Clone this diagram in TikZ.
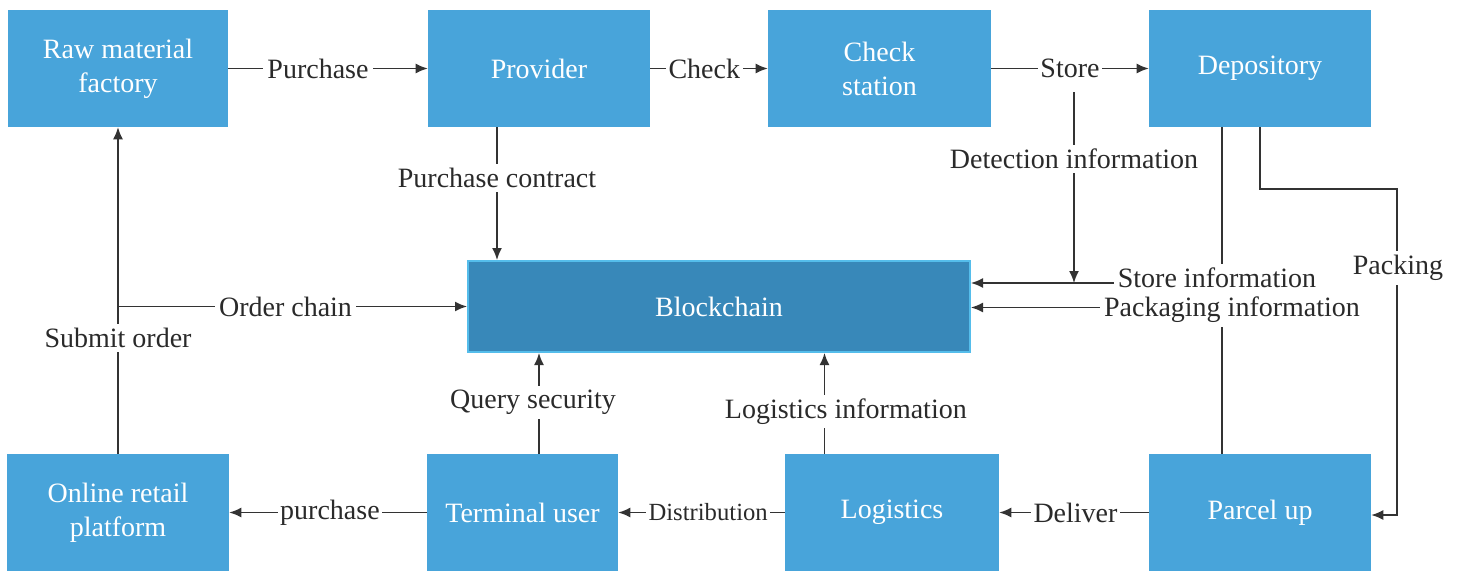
\documentclass[tikz,border=0pt]{standalone}
\usepackage{fontspec}
\setmainfont{Liberation Serif}
\usetikzlibrary{arrows.meta,calc}
\definecolor{boxblue}{HTML}{48A4DA}
\definecolor{chainblue}{HTML}{3888B9}
\definecolor{chainedge}{HTML}{55BDEB}
\definecolor{linegray}{HTML}{333333}
\definecolor{txtgray}{HTML}{2A2A2A}
\tikzset{
  box/.style={fill=boxblue, draw=none, text=white, inner sep=0pt, align=center,
    font=\fontsize{21}{25.5}\selectfont},
  chain/.style={fill=chainblue, draw=chainedge, line width=1.5pt, text=white, inner sep=0pt,
    font=\fontsize{21}{25.5}\selectfont},
  arr/.style={draw=linegray, line width=1.2pt, -{Latex[length=9pt,width=7.5pt]}},
  lbl/.style={fill=white, text=txtgray, inner sep=3pt, font=\fontsize{21}{25}\selectfont},
  slbl/.style={fill=white, text=txtgray, inner sep=3pt, font=\fontsize{18.5}{22}\selectfont}
}
\begin{document}
\begin{tikzpicture}[x=0.75pt,y=-0.75pt]
\useasboundingbox[fill=white] (0,0) rectangle (1461,571);
% boxes
\node[box, minimum width=220*0.75pt, minimum height=117*0.75pt] (raw) at (118,68.5) {Raw material\\factory};
\node[box, minimum width=222*0.75pt, minimum height=117*0.75pt] (prov) at (539,68.5) {Provider};
\node[box, minimum width=223*0.75pt, minimum height=117*0.75pt] (check) at (879.5,68.5) {Check\\station};
\node[box, minimum width=222*0.75pt, minimum height=117*0.75pt] (dep) at (1260,68.5) {Depository};
\node[chain, minimum width=502*0.75pt, minimum height=91*0.75pt] (bc) at (719,306.5) {Blockchain};
\node[box, minimum width=222*0.75pt, minimum height=117*0.75pt] (online) at (118,512.5) {Online retail\\platform};
\node[box, minimum width=191*0.75pt, minimum height=117*0.75pt] (term) at (522.5,512.5) {Terminal user};
\node[box, minimum width=214*0.75pt, minimum height=117*0.75pt] (logi) at (892,512.5) {Logistics};
\node[box, minimum width=222*0.75pt, minimum height=117*0.75pt] (parcel) at (1260,512.5) {Parcel up};
% top row
\draw[arr] (raw.east) -- (prov.west) node[lbl, pos=0.45] {Purchase};
\draw[arr] (prov.east) -- (check.west) node[lbl, inner sep=2pt, pos=0.46] (cklbl) {Check};
\draw[arr] (check.east) -- (dep.west) node[lbl, inner sep=2pt, pos=0.5] (stlbl) {Store};
% detection information
\coordinate (dtop) at (1074,92);
\coordinate (dbot) at (1074,283);
\draw[arr] (dtop) -- (dbot) node[lbl, pos=0.35] {Detection information};
% provider to blockchain
\coordinate (pc) at ($(prov.south)+(-42,0)$);
\draw[arr] (pc) -- (pc |- bc.north) node[lbl, pos=0.38] {Purchase contract};
% order chain & submit order
\draw[arr] (online.north) -- (raw.south) node[lbl, pos=0.355] {Submit order};
\draw[arr] (raw.south |- bc.west) -- (bc.west) node[lbl, pos=0.48] {Order chain};
% store / packaging information
\draw[arr] ($(dep.south)+(-38,0)$) |- ($(bc.east)+(0,-23.5)$);
\draw[arr] ($(parcel.north)+(-38,0)$) |- ($(bc.east)+(0,1)$);
% packing
\draw[arr] (dep.south) -- ++(0,62) -- ++(137,0) |- ($(parcel.east)+(0,2.5)$);
\node[lbl] (silbl) at (1217,278) {Store information};
\node[lbl] (pilbl) at (1232,310) {Packaging information};
\node[lbl] (pklbl) at (1398,268) {Packing};
% bottom to blockchain
\coordinate (qs) at ($(term.north)+(16.5,0)$);
\draw[arr] (qs) -- (qs |- bc.south) node[lbl, pos=0.51, xshift=-4.5pt] {Query security};
\coordinate (li) at ($(logi.north)+(-67.5,0)$);
\draw[arr] (li) -- (li |- bc.south) node[lbl, pos=0.42, xshift=16pt] {Logistics information};
% bottom row
\draw[arr] (term.west) -- (online.east) node[lbl, inner sep=2pt, pos=0.49] {purchase};
\draw[arr] (logi.west) -- (term.east) node[slbl, inner sep=2pt, pos=0.46] {Distribution};
\draw[arr] (parcel.west) -- (logi.east) node[lbl, inner sep=2pt, pos=0.49] {Deliver};
\end{tikzpicture}
\end{document}
